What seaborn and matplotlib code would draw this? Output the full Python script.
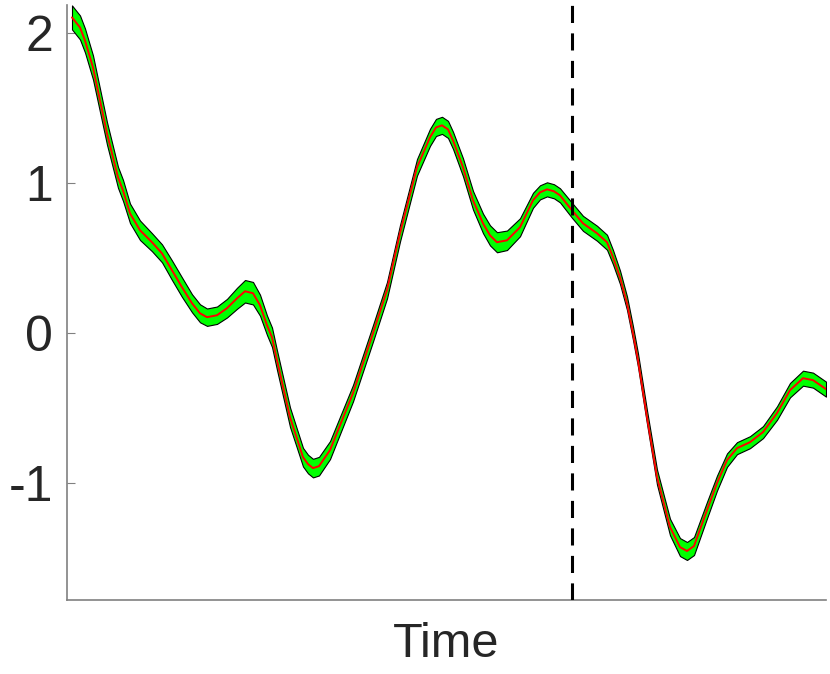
import numpy as np
import pandas as pd
import matplotlib
matplotlib.use("Agg")
import matplotlib.pyplot as plt
import seaborn as sns

# ======================
# DATA
# ======================
time = [5, 13, 18, 26, 40, 51, 56, 63, 73, 85,
        95, 105, 115, 125, 133, 140, 150, 160, 170, 178,
        186, 193, 200, 205, 210, 223, 236, 241, 246, 252,
        263, 286, 306, 320, 333, 350, 363, 369, 375, 381,
        386, 396, 406, 416, 423, 430, 440, 453, 466, 473,
        480, 487, 493, 505, 516, 530, 540, 546, 553, 560,
        566, 571, 580, 590, 603, 613, 620, 627, 640, 650,
        660, 670, 683, 696, 710, 723, 736, 746, 759]
value = [2.107, 2.040, 1.953, 1.773, 1.333, 1.040, 0.953, 0.800, 0.687, 0.607,
         0.533, 0.420, 0.307, 0.200, 0.133, 0.107, 0.120, 0.167, 0.233, 0.280,
         0.267, 0.187, 0.053, -0.027, -0.180, -0.560, -0.827, -0.873, -0.900, -0.887,
         -0.780, -0.400, 0.000, 0.287, 0.667, 1.107, 1.307, 1.373, 1.387, 1.360,
         1.287, 1.107, 0.887, 0.733, 0.653, 0.607, 0.620, 0.707, 0.887, 0.940,
         0.960, 0.947, 0.920, 0.820, 0.733, 0.667, 0.607, 0.507, 0.373, 0.200,
         0.000, -0.180, -0.560, -0.960, -1.293, -1.427, -1.453, -1.420, -1.180, -1.000,
         -0.847, -0.767, -0.727, -0.660, -0.533, -0.380, -0.300, -0.313, -0.373]
spread = [0.08, 0.08, 0.08, 0.08, 0.075, 0.07, 0.07, 0.065, 0.065, 0.06,
          0.06, 0.065, 0.065, 0.06, 0.06, 0.058, 0.058, 0.062, 0.07, 0.075,
          0.075, 0.07, 0.065, 0.065, 0.065, 0.065, 0.062, 0.062, 0.062, 0.062,
          0.06, 0.055, 0.055, 0.055, 0.055, 0.055, 0.057, 0.057, 0.057, 0.057,
          0.057, 0.06, 0.062, 0.065, 0.067, 0.067, 0.065, 0.06, 0.05, 0.047,
          0.047, 0.047, 0.047, 0.05, 0.05, 0.05, 0.05, 0.048, 0.045, 0.045,
          0.045, 0.045, 0.045, 0.05, 0.055, 0.06, 0.06, 0.06, 0.055, 0.05,
          0.045, 0.04, 0.04, 0.04, 0.045, 0.048, 0.05, 0.05, 0.05]

event_time = 505
y_ticks = [-1, 0, 1, 2]
y_tick_labels = ["-1", "0", "1", "2"]

df = pd.DataFrame({"time": time, "value": value, "spread": spread})
df["low"] = df["value"] - df["spread"]
df["high"] = df["value"] + df["spread"]

# ======================
# PLOT
# ======================
sns.set_theme(style="ticks")
plt.rcParams["font.family"] = ["Liberation Sans", "DejaVu Sans"]

fig = plt.figure(figsize=(8.3, 6.74), dpi=100)
ax = fig.add_axes([67 / 830, 74 / 674, 759 / 830, 595 / 674])

ax.fill_between(df["time"], df["low"], df["high"], facecolor="#00ff00",
                edgecolor="black", linewidth=0.8, zorder=2)
sns.lineplot(data=df, x="time", y="value", color="#ff0000", linewidth=1.4,
             ax=ax, zorder=3)
ax.axvline(event_time, color="black", linewidth=2.2,
           linestyle=(0, (5.6, 3.4)), zorder=4)

ax.set_xlim(0, 759)
ax.set_ylim(-1.78, 2.19)
ax.set_xticks([])
ax.set_yticks(y_ticks)
ax.set_yticklabels(y_tick_labels)
ax.tick_params(axis="y", direction="in", length=6, width=0.8,
               color="#808080", labelsize=36, labelcolor="#262626", pad=10)
ax.set_xlabel("Time", fontsize=35, color="#262626", labelpad=16)
ax.set_ylabel("")

for side in ["top", "right"]:
    ax.spines[side].set_visible(False)
for side in ["left", "bottom"]:
    ax.spines[side].set_color("#808080")
    ax.spines[side].set_linewidth(1.2)

fig.savefig("out.png", dpi=100)
